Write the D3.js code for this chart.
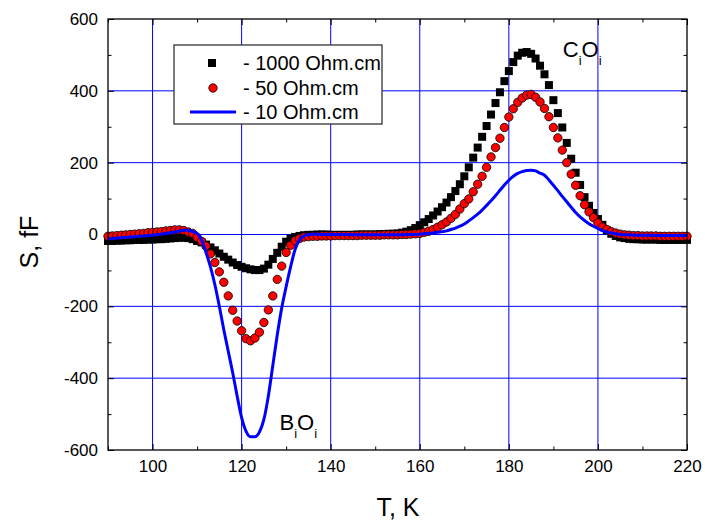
<!DOCTYPE html>
<html>
<head>
<meta charset="utf-8">
<script src="https://cdn.jsdelivr.net/npm/d3@7"></script>
<style>
  body { margin: 0; background: #fff; }
  text { font-family: "Liberation Sans", Arial, sans-serif; fill: #000; }
</style>
</head>
<body>
<div id="chart-area"></div>
<script>
// temperatures, 1 K steps from 90 to 220
const temps = d3.range(90, 221, 1)

const s1000 = [
  -18,-18,-17,-17,-16,-16,-15,-15,-15,-14,
  -14,-13,-13,-12,-11,-10,-9,-9,-10,-13,
  -18,-22,-28,-36,-44,-53,-62,-70,-78,-85,
  -90,-94,-97,-99,-99,-95,-84,-68,-51,-34,
  -20,-12,-7,-4,-2,-1,-1,0,0,0,
  -1,-1,-1,-1,-1,-1,0,0,0,0,
  0,1,1,2,2,3,5,8,12,18,
  26,34,43,53,64,76,89,104,121,140,
  162,187,214,242,272,302,334,366,396,427,
  455,480,498,506,508,503,490,470,446,416,
  374,338,298,255,211,172,138,104,80,60,
  43,27,12,2,-4,-8,-10,-12,-13,-13,
  -14,-14,-14,-14,-15,-15,-15,-15,-15,-15,
  -15
]

const s50 = [
  -5,-4,-3,-2,-1,0,1,2,3,5,
  6,7,8,10,11,13,13,11,7,3,
  -8,-19,-32,-54,-78,-104,-133,-171,-211,-241,
  -268,-290,-296,-288,-272,-245,-210,-171,-125,-88,
  -50,-30,-17,-11,-7,-6,-5,-5,-4,-4,
  -4,-3,-3,-3,-3,-3,-3,-2,-2,-2,
  -2,-2,-1,-1,-1,-1,0,0,1,2,
  3,6,9,14,20,27,35,45,56,71,
  86,99,119,140,162,187,216,242,268,298,
  327,350,368,380,388,390,382,369,351,328,
  298,269,235,200,168,137,108,83,63,47,
  32,21,14,8,4,1,-1,-2,-3,-3,
  -4,-4,-4,-4,-5,-5,-5,-5,-5,-5,
  -5
]

const s10 = [
  -12,-11,-10,-9,-8,-7,-6,-5,-4,-3,
  -2,-1,1,3,5,7,10,12,12,8,
  3,-15,-50,-90,-140,-200,-265,-325,-385,-450,
  -510,-548,-563,-563,-550,-515,-450,-365,-280,-205,
  -145,-90,-42,-15,-4,0,1,1,0,0,
  0,0,0,0,0,-1,-1,-1,-1,-1,
  -1,-1,-1,-1,-1,-1,-1,0,0,0,
  1,2,3,4,6,8,10,14,18,23,
  29,38,47,57,68,81,94,108,123,138,
  151,162,170,175,178,179,177,171,165,152,
  137,122,106,91,76,61,49,39,30,23,
  17,11,7,4,2,0,-1,-1,-2,-2,
  -2,-2,-2,-3,-3,-3,-3,-3,-3,-3,
  -3
]

const legendLabels = ['- 1000 Ohm.cm', '- 50 Ohm.cm', '- 10 Ohm.cm']
const xTicks = [100, 120, 140, 160, 180, 200, 220]
const yTicks = [-600, -400, -200, 0, 200, 400, 600]

const margin = {top: 19, right: 18, bottom: 71, left: 108}
const width = 705 - margin.left - margin.right
const height = 521 - margin.top - margin.bottom

const svg = d3.select('#chart-area')
  .append('svg')
    .attr('width', 705)
    .attr('height', 521)

const g = svg.append('g')
  .attr('transform', `translate(${margin.left},${margin.top})`)

const x = d3.scaleLinear().domain([90, 220]).range([0, width])
const y = d3.scaleLinear().domain([-600, 600]).range([height, 0])

// grid
g.append('g').selectAll('line')
  .data([100, 120, 140, 160, 180, 200])
  .enter().append('line')
    .attr('x1', d => x(d)).attr('x2', d => x(d))
    .attr('y1', 0).attr('y2', height)
    .attr('stroke', '#0000ff').attr('stroke-width', 1)

g.append('g').selectAll('line')
  .data([-400, -200, 0, 200, 400])
  .enter().append('line')
    .attr('x1', 0).attr('x2', width)
    .attr('y1', d => y(d)).attr('y2', d => y(d))
    .attr('stroke', '#0000ff').attr('stroke-width', 1)

// axes, ticks pointing inward
const xMinor = d3.range(90, 221, 10).filter(d => d % 20 !== 0)
const yMinor = d3.range(-500, 600, 200)

function styleAxis(sel){
  sel.select('.domain').remove()
  sel.selectAll('line').attr('stroke', '#000').attr('stroke-width', 1)
  sel.selectAll('text').attr('font-size', '17px').attr('fill', '#000')
}

g.append('g')
  .attr('transform', `translate(0,${height})`)
  .call(d3.axisBottom(x).tickValues(xTicks).tickSize(-6).tickPadding(10).tickFormat(d => String(d)))
  .call(styleAxis)
g.append('g')
  .attr('transform', `translate(0,${height})`)
  .call(d3.axisBottom(x).tickValues(xMinor).tickSize(-3.5).tickFormat(''))
  .call(styleAxis)
g.append('g')
  .call(d3.axisTop(x).tickValues(xTicks).tickSize(-6).tickFormat(''))
  .call(styleAxis)
g.append('g')
  .call(d3.axisTop(x).tickValues(xMinor).tickSize(-3.5).tickFormat(''))
  .call(styleAxis)

g.append('g')
  .call(d3.axisLeft(y).tickValues(yTicks).tickSize(-6).tickPadding(10).tickFormat(d => String(d)))
  .call(styleAxis)
g.append('g')
  .call(d3.axisLeft(y).tickValues(yMinor).tickSize(-3.5).tickFormat(''))
  .call(styleAxis)
g.append('g')
  .attr('transform', `translate(${width},0)`)
  .call(d3.axisRight(y).tickValues(yTicks).tickSize(-6).tickFormat(''))
  .call(styleAxis)
g.append('g')
  .attr('transform', `translate(${width},0)`)
  .call(d3.axisRight(y).tickValues(yMinor).tickSize(-3.5).tickFormat(''))
  .call(styleAxis)

// data
const plot = g.append('g')

plot.selectAll('rect.sq')
  .data(temps.map((t, i) => [t, s1000[i]]))
  .enter().append('rect')
    .attr('class', 'sq')
    .attr('x', d => x(d[0]) - 4)
    .attr('y', d => y(d[1]) - 4)
    .attr('width', 8)
    .attr('height', 8)
    .attr('fill', '#000')

plot.selectAll('circle')
  .data(temps.map((t, i) => [t, s50[i]]))
  .enter().append('circle')
    .attr('cx', d => x(d[0]))
    .attr('cy', d => y(d[1]))
    .attr('r', 4.2)
    .attr('fill', '#ff0000')
    .attr('stroke', '#000')
    .attr('stroke-width', 0.8)

const line = d3.line()
  .x(d => x(d[0]))
  .y(d => y(d[1]))
  .curve(d3.curveMonotoneX)

plot.append('path')
  .datum(temps.map((t, i) => [t, s10[i]]))
  .attr('d', line)
  .attr('fill', 'none')
  .attr('stroke', '#0000ff')
  .attr('stroke-width', 3)

// frame
g.append('rect')
  .attr('width', width)
  .attr('height', height)
  .attr('fill', 'none')
  .attr('stroke', '#000')
  .attr('stroke-width', 1.3)

// labels on peaks
function subLabel(px, py, a){
  const t = g.append('text')
    .attr('x', px).attr('y', py)
    .attr('font-size', '22px')
  t.append('tspan').text(a)
  t.append('tspan').attr('font-size', '13px').attr('dy', 8).text('i')
  t.append('tspan').attr('dy', -8).text('O')
  t.append('tspan').attr('font-size', '13px').attr('dy', 8).text('i')
}
subLabel(x(192.1), y(494), 'C')
subLabel(x(128.5), y(-545), 'B')

// legend
const legend = g.append('g').attr('transform', 'translate(66,26)')
legend.append('rect')
  .attr('width', 208).attr('height', 79)
  .attr('fill', '#fff')
  .attr('stroke', '#222')
  .attr('stroke-width', 1.2)

legend.append('rect')
  .attr('x', 34).attr('y', 14).attr('width', 8).attr('height', 8)
  .attr('fill', '#000')
legend.append('circle')
  .attr('cx', 39).attr('cy', 43).attr('r', 4.2)
  .attr('fill', '#ff0000').attr('stroke', '#000').attr('stroke-width', 0.8)
legend.append('line')
  .attr('x1', 16).attr('x2', 62).attr('y1', 67).attr('y2', 67)
  .attr('stroke', '#0000ff').attr('stroke-width', 3)

legend.selectAll('text.leg')
  .data(legendLabels)
  .enter().append('text')
    .attr('class', 'leg')
    .attr('x', 69)
    .attr('y', (d, i) => 18 + i * 24.5)
    .attr('dy', '0.35em')
    .attr('font-size', '20px')
    .text(d => d)

// axis titles
svg.append('text')
  .attr('x', 398)
  .attr('y', 516)
  .attr('text-anchor', 'middle')
  .attr('font-size', '25px')
  .text('T, K')

svg.append('text')
  .attr('transform', 'translate(38,242) rotate(-90)')
  .attr('text-anchor', 'middle')
  .attr('font-size', '25px')
  .text('S, fF')
</script>
</body>
</html>
